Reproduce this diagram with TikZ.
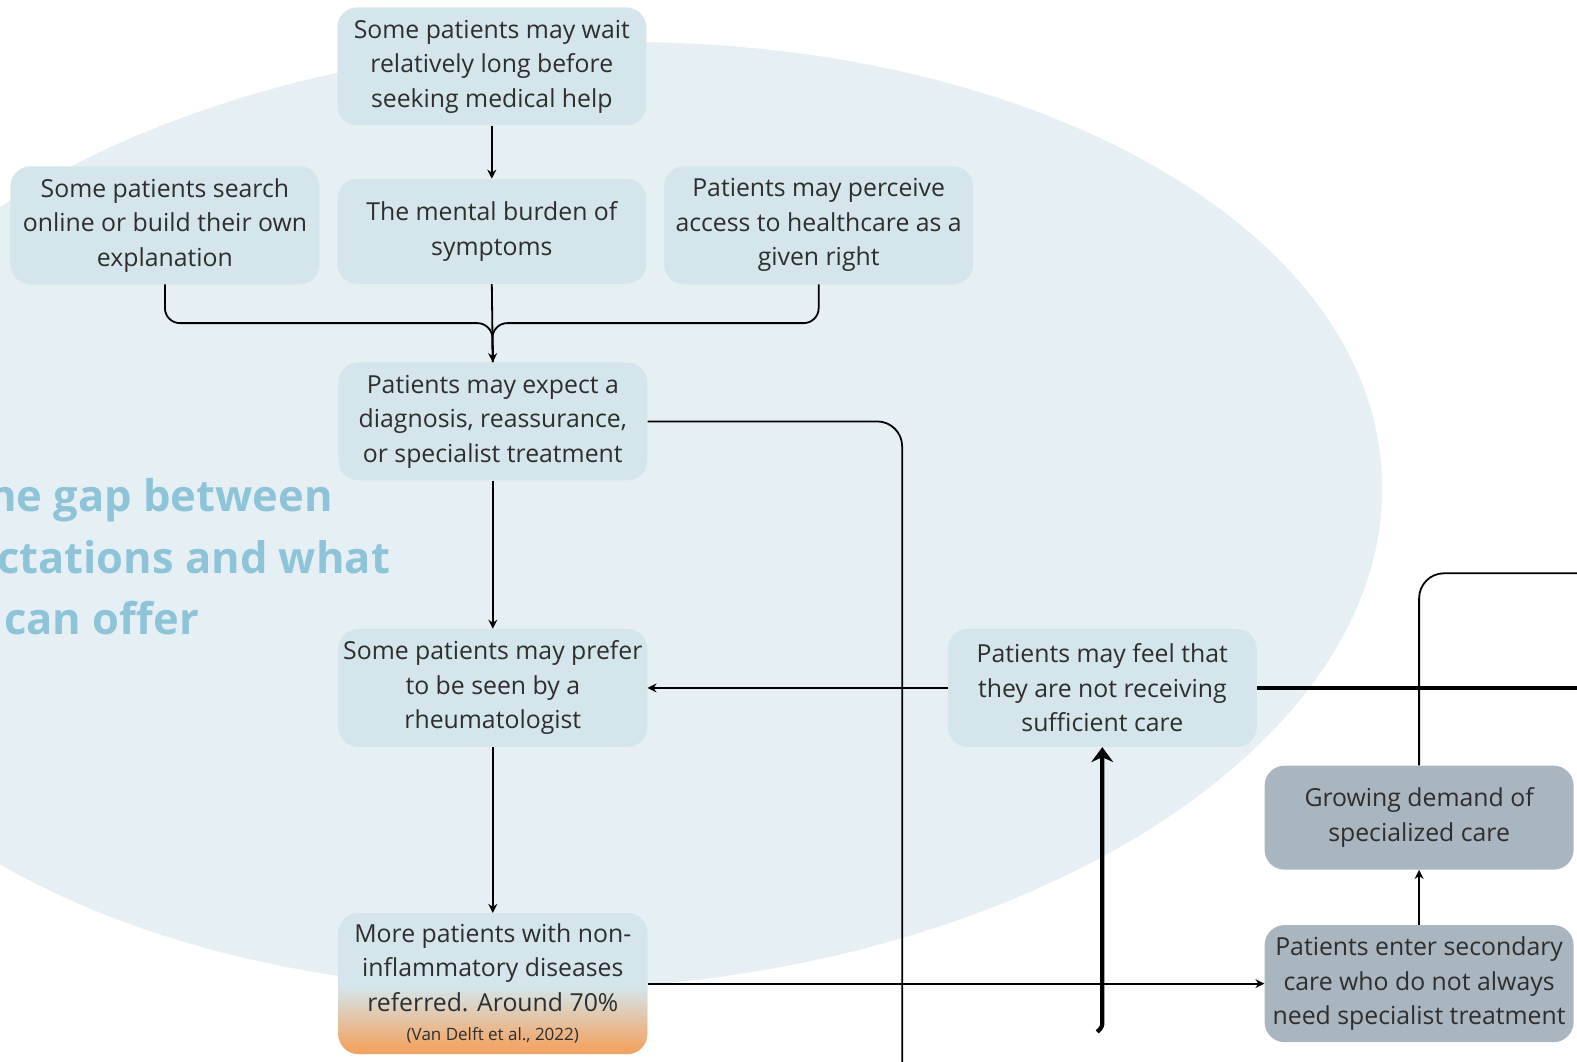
\documentclass[tikz,border=0pt]{standalone}
\usepackage{fontspec}
\setmainfont{Open Sans}
\usetikzlibrary{arrows.meta,calc}

\definecolor{bg}{HTML}{E6EFF4}
\definecolor{boxblue}{HTML}{D4E6EC}
\definecolor{boxgray}{HTML}{A9B5BF}
\definecolor{txt}{HTML}{2E2E2E}
\definecolor{titleblue}{HTML}{8EC4D8}
\definecolor{orng}{HTML}{F2A465}

% light blue above, orange towards the bottom edge of the node
\pgfdeclareverticalshading{blueorange}{100bp}{color(0bp)=(orng); color(27bp)=(orng); color(49bp)=(boxblue); color(100bp)=(boxblue)}

\tikzset{
  box/.style={rectangle, rounded corners=20pt, fill=boxblue, text=txt, align=center,
    inner sep=0pt, minimum width=309pt, minimum height=118pt,
    font=\fontsize{24.8}{34.5}\selectfont},
  graybox/.style={box, fill=boxgray},
  heading/.style={text=titleblue, anchor=base west, inner sep=0pt,
    font=\fontsize{43.5}{60}\selectfont\bfseries},
  wire/.style={line width=1.8pt, black},
  arr/.style={wire, -{Stealth[length=9pt,width=9pt]}},
  heavy/.style={line width=4.2pt, black},
  heavyarr/.style={heavy, -{Stealth[length=15pt,width=22pt,inset=5pt]}},
}

\begin{document}
\begin{tikzpicture}[x=1.0057pt, y=-1.0057pt]
\useasboundingbox (0,0) rectangle (1568,1055);
\clip (0,0) rectangle (1568,1055);

% background ellipse
\fill[bg, rotate around={3:(575,513)}] (575,513) ellipse [x radius=800, y radius=470];

% heading
\node[heading] (h1) at (-12,509) {he gap between};
\node[heading] (h2) at (-3,570) {ctations and what};
\node[heading] (h3) at (4,631) {can offer};

% boxes
\node[box] (T) at (489,66) {Some patients may wait\\relatively long before\\seeking medical help};
\node[box] (L) at (164,224) {Some patients search\\online or build their own\\explanation};
\node[box, minimum height=105pt] (M) at (489,230) {The mental burden of\\symptoms};
\node[box] (R) at (814,224) {Patients may perceive\\access to healthcare as a\\given right};
\node[box] (E) at (490,419) {Patients may expect a\\diagnosis, reassurance,\\or specialist treatment};
\node[box] (P) at (490,684) {Some patients may prefer\\to be seen by a\\rheumatologist};
\node[box, minimum height=141pt, shade, shading=blueorange] (Mo) at (490,978)
  {More patients with non-\\inflammatory diseases\\referred. Around 70\%\\[-5pt]{\fontsize{17}{20}\selectfont (Van Delft et al., 2022)}};
\node[box] (F) at (1096,684) {Patients may feel that\\they are not receiving\\sufficient care};
\node[graybox, minimum height=104pt] (G) at (1411,813) {Growing demand of\\specialized care};
\node[graybox, minimum height=117pt] (N) at (1411,978) {Patients enter secondary\\care who do not always\\need specialist treatment};

% free ends leaving the frame
\coordinate (exitE) at (897,1080);
\coordinate (exitG) at (1600,570);
\coordinate (exitF) at (1600,684);
\coordinate (hook) at (1091,1026);
\coordinate (hookturn) at (1096,1021);

% connectors
\draw[arr] (T.south) -- (M.north);
\draw[wire, rounded corners=15pt] (L.south) |- ($(M.south)!0.5!(E.north)$) -- (E.north);
\draw[wire, rounded corners=15pt] (R.south) |- ($(M.south)!0.5!(E.north)$) -- (E.north);
\draw[arr] (M.south) -- (E.north);
\draw[wire, rounded corners=25pt] (E.east) -| (exitE);
\draw[arr] (E.south) -- (P.north);
\draw[arr] (P.south) -- (Mo.north);
\draw[arr] (F.west) -- (P.east);
\draw[heavy] (F.east) -- (exitF);
\draw[wire, rounded corners=25pt] (G.north) |- (exitG);
\draw[arr] (Mo.east) -- (N.west);
\draw[arr] (N.north) -- (G.south);
\draw[heavyarr, rounded corners=3pt] (hook) -- (hookturn) -- (F.south);
\end{tikzpicture}
\end{document}
